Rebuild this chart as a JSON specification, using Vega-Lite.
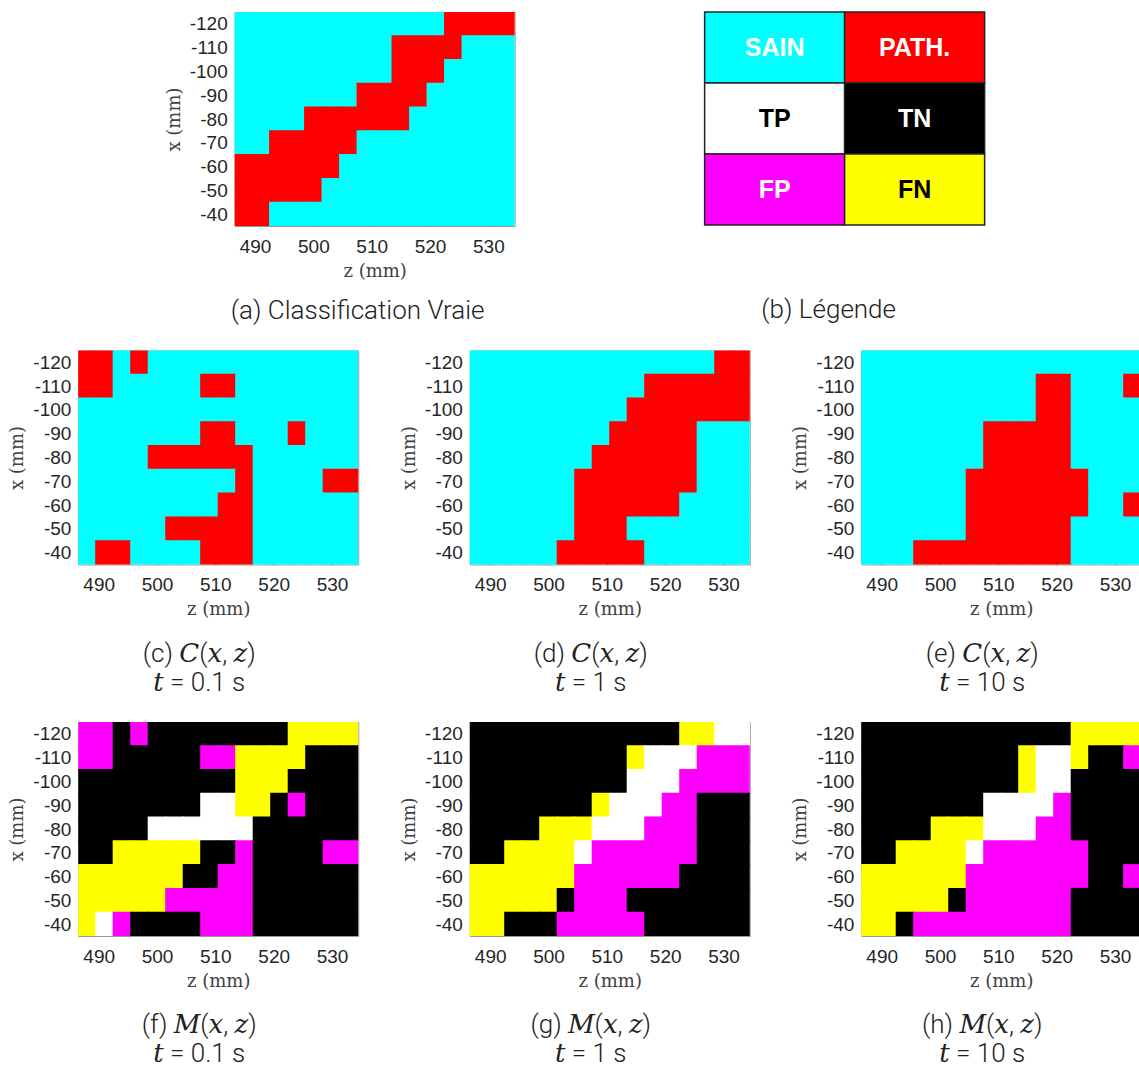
{
"$schema":"https://vega.github.io/schema/vega-lite/v6.json",
"background":"white",
"padding":{"left":8,"top":11,"right":0,"bottom":0},
"data":{"values":[
{"z":488,"x":-120,"a":"S","c":"P","d":"S","e":"S","f":"FP","g":"TN","h":"TN"},
{"z":491,"x":-120,"a":"S","c":"P","d":"S","e":"S","f":"FP","g":"TN","h":"TN"},
{"z":494,"x":-120,"a":"S","c":"S","d":"S","e":"S","f":"TN","g":"TN","h":"TN"},
{"z":497,"x":-120,"a":"S","c":"P","d":"S","e":"S","f":"FP","g":"TN","h":"TN"},
{"z":500,"x":-120,"a":"S","c":"S","d":"S","e":"S","f":"TN","g":"TN","h":"TN"},
{"z":503,"x":-120,"a":"S","c":"S","d":"S","e":"S","f":"TN","g":"TN","h":"TN"},
{"z":506,"x":-120,"a":"S","c":"S","d":"S","e":"S","f":"TN","g":"TN","h":"TN"},
{"z":509,"x":-120,"a":"S","c":"S","d":"S","e":"S","f":"TN","g":"TN","h":"TN"},
{"z":512,"x":-120,"a":"S","c":"S","d":"S","e":"S","f":"TN","g":"TN","h":"TN"},
{"z":515,"x":-120,"a":"S","c":"S","d":"S","e":"S","f":"TN","g":"TN","h":"TN"},
{"z":518,"x":-120,"a":"S","c":"S","d":"S","e":"S","f":"TN","g":"TN","h":"TN"},
{"z":521,"x":-120,"a":"S","c":"S","d":"S","e":"S","f":"TN","g":"TN","h":"TN"},
{"z":524,"x":-120,"a":"P","c":"S","d":"S","e":"S","f":"FN","g":"FN","h":"FN"},
{"z":527,"x":-120,"a":"P","c":"S","d":"S","e":"S","f":"FN","g":"FN","h":"FN"},
{"z":530,"x":-120,"a":"P","c":"S","d":"P","e":"S","f":"FN","g":"TP","h":"FN"},
{"z":533,"x":-120,"a":"P","c":"S","d":"P","e":"S","f":"FN","g":"TP","h":"FN"},
{"z":488,"x":-110,"a":"S","c":"P","d":"S","e":"S","f":"FP","g":"TN","h":"TN"},
{"z":491,"x":-110,"a":"S","c":"P","d":"S","e":"S","f":"FP","g":"TN","h":"TN"},
{"z":494,"x":-110,"a":"S","c":"S","d":"S","e":"S","f":"TN","g":"TN","h":"TN"},
{"z":497,"x":-110,"a":"S","c":"S","d":"S","e":"S","f":"TN","g":"TN","h":"TN"},
{"z":500,"x":-110,"a":"S","c":"S","d":"S","e":"S","f":"TN","g":"TN","h":"TN"},
{"z":503,"x":-110,"a":"S","c":"S","d":"S","e":"S","f":"TN","g":"TN","h":"TN"},
{"z":506,"x":-110,"a":"S","c":"S","d":"S","e":"S","f":"TN","g":"TN","h":"TN"},
{"z":509,"x":-110,"a":"S","c":"P","d":"S","e":"S","f":"FP","g":"TN","h":"TN"},
{"z":512,"x":-110,"a":"S","c":"P","d":"S","e":"S","f":"FP","g":"TN","h":"TN"},
{"z":515,"x":-110,"a":"P","c":"S","d":"S","e":"S","f":"FN","g":"FN","h":"FN"},
{"z":518,"x":-110,"a":"P","c":"S","d":"P","e":"P","f":"FN","g":"TP","h":"TP"},
{"z":521,"x":-110,"a":"P","c":"S","d":"P","e":"P","f":"FN","g":"TP","h":"TP"},
{"z":524,"x":-110,"a":"P","c":"S","d":"P","e":"S","f":"FN","g":"TP","h":"FN"},
{"z":527,"x":-110,"a":"S","c":"S","d":"P","e":"S","f":"TN","g":"FP","h":"TN"},
{"z":530,"x":-110,"a":"S","c":"S","d":"P","e":"S","f":"TN","g":"FP","h":"TN"},
{"z":533,"x":-110,"a":"S","c":"S","d":"P","e":"P","f":"TN","g":"FP","h":"FP"},
{"z":488,"x":-100,"a":"S","c":"S","d":"S","e":"S","f":"TN","g":"TN","h":"TN"},
{"z":491,"x":-100,"a":"S","c":"S","d":"S","e":"S","f":"TN","g":"TN","h":"TN"},
{"z":494,"x":-100,"a":"S","c":"S","d":"S","e":"S","f":"TN","g":"TN","h":"TN"},
{"z":497,"x":-100,"a":"S","c":"S","d":"S","e":"S","f":"TN","g":"TN","h":"TN"},
{"z":500,"x":-100,"a":"S","c":"S","d":"S","e":"S","f":"TN","g":"TN","h":"TN"},
{"z":503,"x":-100,"a":"S","c":"S","d":"S","e":"S","f":"TN","g":"TN","h":"TN"},
{"z":506,"x":-100,"a":"S","c":"S","d":"S","e":"S","f":"TN","g":"TN","h":"TN"},
{"z":509,"x":-100,"a":"S","c":"S","d":"S","e":"S","f":"TN","g":"TN","h":"TN"},
{"z":512,"x":-100,"a":"S","c":"S","d":"S","e":"S","f":"TN","g":"TN","h":"TN"},
{"z":515,"x":-100,"a":"P","c":"S","d":"P","e":"S","f":"FN","g":"TP","h":"FN"},
{"z":518,"x":-100,"a":"P","c":"S","d":"P","e":"P","f":"FN","g":"TP","h":"TP"},
{"z":521,"x":-100,"a":"P","c":"S","d":"P","e":"P","f":"FN","g":"TP","h":"TP"},
{"z":524,"x":-100,"a":"S","c":"S","d":"P","e":"S","f":"TN","g":"FP","h":"TN"},
{"z":527,"x":-100,"a":"S","c":"S","d":"P","e":"S","f":"TN","g":"FP","h":"TN"},
{"z":530,"x":-100,"a":"S","c":"S","d":"P","e":"S","f":"TN","g":"FP","h":"TN"},
{"z":533,"x":-100,"a":"S","c":"S","d":"P","e":"S","f":"TN","g":"FP","h":"TN"},
{"z":488,"x":-90,"a":"S","c":"S","d":"S","e":"S","f":"TN","g":"TN","h":"TN"},
{"z":491,"x":-90,"a":"S","c":"S","d":"S","e":"S","f":"TN","g":"TN","h":"TN"},
{"z":494,"x":-90,"a":"S","c":"S","d":"S","e":"S","f":"TN","g":"TN","h":"TN"},
{"z":497,"x":-90,"a":"S","c":"S","d":"S","e":"S","f":"TN","g":"TN","h":"TN"},
{"z":500,"x":-90,"a":"S","c":"S","d":"S","e":"S","f":"TN","g":"TN","h":"TN"},
{"z":503,"x":-90,"a":"S","c":"S","d":"S","e":"S","f":"TN","g":"TN","h":"TN"},
{"z":506,"x":-90,"a":"S","c":"S","d":"S","e":"S","f":"TN","g":"TN","h":"TN"},
{"z":509,"x":-90,"a":"P","c":"P","d":"S","e":"P","f":"TP","g":"FN","h":"TP"},
{"z":512,"x":-90,"a":"P","c":"P","d":"P","e":"P","f":"TP","g":"TP","h":"TP"},
{"z":515,"x":-90,"a":"P","c":"S","d":"P","e":"P","f":"FN","g":"TP","h":"TP"},
{"z":518,"x":-90,"a":"P","c":"S","d":"P","e":"P","f":"FN","g":"TP","h":"TP"},
{"z":521,"x":-90,"a":"S","c":"S","d":"P","e":"P","f":"TN","g":"FP","h":"FP"},
{"z":524,"x":-90,"a":"S","c":"P","d":"P","e":"S","f":"FP","g":"FP","h":"TN"},
{"z":527,"x":-90,"a":"S","c":"S","d":"S","e":"S","f":"TN","g":"TN","h":"TN"},
{"z":530,"x":-90,"a":"S","c":"S","d":"S","e":"S","f":"TN","g":"TN","h":"TN"},
{"z":533,"x":-90,"a":"S","c":"S","d":"S","e":"S","f":"TN","g":"TN","h":"TN"},
{"z":488,"x":-80,"a":"S","c":"S","d":"S","e":"S","f":"TN","g":"TN","h":"TN"},
{"z":491,"x":-80,"a":"S","c":"S","d":"S","e":"S","f":"TN","g":"TN","h":"TN"},
{"z":494,"x":-80,"a":"S","c":"S","d":"S","e":"S","f":"TN","g":"TN","h":"TN"},
{"z":497,"x":-80,"a":"S","c":"S","d":"S","e":"S","f":"TN","g":"TN","h":"TN"},
{"z":500,"x":-80,"a":"P","c":"P","d":"S","e":"S","f":"TP","g":"FN","h":"FN"},
{"z":503,"x":-80,"a":"P","c":"P","d":"S","e":"S","f":"TP","g":"FN","h":"FN"},
{"z":506,"x":-80,"a":"P","c":"P","d":"S","e":"S","f":"TP","g":"FN","h":"FN"},
{"z":509,"x":-80,"a":"P","c":"P","d":"P","e":"P","f":"TP","g":"TP","h":"TP"},
{"z":512,"x":-80,"a":"P","c":"P","d":"P","e":"P","f":"TP","g":"TP","h":"TP"},
{"z":515,"x":-80,"a":"P","c":"P","d":"P","e":"P","f":"TP","g":"TP","h":"TP"},
{"z":518,"x":-80,"a":"S","c":"S","d":"P","e":"P","f":"TN","g":"FP","h":"FP"},
{"z":521,"x":-80,"a":"S","c":"S","d":"P","e":"P","f":"TN","g":"FP","h":"FP"},
{"z":524,"x":-80,"a":"S","c":"S","d":"P","e":"S","f":"TN","g":"FP","h":"TN"},
{"z":527,"x":-80,"a":"S","c":"S","d":"S","e":"S","f":"TN","g":"TN","h":"TN"},
{"z":530,"x":-80,"a":"S","c":"S","d":"S","e":"S","f":"TN","g":"TN","h":"TN"},
{"z":533,"x":-80,"a":"S","c":"S","d":"S","e":"S","f":"TN","g":"TN","h":"TN"},
{"z":488,"x":-70,"a":"S","c":"S","d":"S","e":"S","f":"TN","g":"TN","h":"TN"},
{"z":491,"x":-70,"a":"S","c":"S","d":"S","e":"S","f":"TN","g":"TN","h":"TN"},
{"z":494,"x":-70,"a":"P","c":"S","d":"S","e":"S","f":"FN","g":"FN","h":"FN"},
{"z":497,"x":-70,"a":"P","c":"S","d":"S","e":"S","f":"FN","g":"FN","h":"FN"},
{"z":500,"x":-70,"a":"P","c":"S","d":"S","e":"S","f":"FN","g":"FN","h":"FN"},
{"z":503,"x":-70,"a":"P","c":"S","d":"S","e":"S","f":"FN","g":"FN","h":"FN"},
{"z":506,"x":-70,"a":"P","c":"S","d":"P","e":"P","f":"FN","g":"TP","h":"TP"},
{"z":509,"x":-70,"a":"S","c":"S","d":"P","e":"P","f":"TN","g":"FP","h":"FP"},
{"z":512,"x":-70,"a":"S","c":"S","d":"P","e":"P","f":"TN","g":"FP","h":"FP"},
{"z":515,"x":-70,"a":"S","c":"P","d":"P","e":"P","f":"FP","g":"FP","h":"FP"},
{"z":518,"x":-70,"a":"S","c":"S","d":"P","e":"P","f":"TN","g":"FP","h":"FP"},
{"z":521,"x":-70,"a":"S","c":"S","d":"P","e":"P","f":"TN","g":"FP","h":"FP"},
{"z":524,"x":-70,"a":"S","c":"S","d":"P","e":"P","f":"TN","g":"FP","h":"FP"},
{"z":527,"x":-70,"a":"S","c":"S","d":"S","e":"S","f":"TN","g":"TN","h":"TN"},
{"z":530,"x":-70,"a":"S","c":"P","d":"S","e":"S","f":"FP","g":"TN","h":"TN"},
{"z":533,"x":-70,"a":"S","c":"P","d":"S","e":"S","f":"FP","g":"TN","h":"TN"},
{"z":488,"x":-60,"a":"P","c":"S","d":"S","e":"S","f":"FN","g":"FN","h":"FN"},
{"z":491,"x":-60,"a":"P","c":"S","d":"S","e":"S","f":"FN","g":"FN","h":"FN"},
{"z":494,"x":-60,"a":"P","c":"S","d":"S","e":"S","f":"FN","g":"FN","h":"FN"},
{"z":497,"x":-60,"a":"P","c":"S","d":"S","e":"S","f":"FN","g":"FN","h":"FN"},
{"z":500,"x":-60,"a":"P","c":"S","d":"S","e":"S","f":"FN","g":"FN","h":"FN"},
{"z":503,"x":-60,"a":"P","c":"S","d":"S","e":"S","f":"FN","g":"FN","h":"FN"},
{"z":506,"x":-60,"a":"S","c":"S","d":"P","e":"P","f":"TN","g":"FP","h":"FP"},
{"z":509,"x":-60,"a":"S","c":"S","d":"P","e":"P","f":"TN","g":"FP","h":"FP"},
{"z":512,"x":-60,"a":"S","c":"P","d":"P","e":"P","f":"FP","g":"FP","h":"FP"},
{"z":515,"x":-60,"a":"S","c":"P","d":"P","e":"P","f":"FP","g":"FP","h":"FP"},
{"z":518,"x":-60,"a":"S","c":"S","d":"P","e":"P","f":"TN","g":"FP","h":"FP"},
{"z":521,"x":-60,"a":"S","c":"S","d":"P","e":"P","f":"TN","g":"FP","h":"FP"},
{"z":524,"x":-60,"a":"S","c":"S","d":"S","e":"P","f":"TN","g":"TN","h":"FP"},
{"z":527,"x":-60,"a":"S","c":"S","d":"S","e":"S","f":"TN","g":"TN","h":"TN"},
{"z":530,"x":-60,"a":"S","c":"S","d":"S","e":"S","f":"TN","g":"TN","h":"TN"},
{"z":533,"x":-60,"a":"S","c":"S","d":"S","e":"P","f":"TN","g":"TN","h":"FP"},
{"z":488,"x":-50,"a":"P","c":"S","d":"S","e":"S","f":"FN","g":"FN","h":"FN"},
{"z":491,"x":-50,"a":"P","c":"S","d":"S","e":"S","f":"FN","g":"FN","h":"FN"},
{"z":494,"x":-50,"a":"P","c":"S","d":"S","e":"S","f":"FN","g":"FN","h":"FN"},
{"z":497,"x":-50,"a":"P","c":"S","d":"S","e":"S","f":"FN","g":"FN","h":"FN"},
{"z":500,"x":-50,"a":"P","c":"S","d":"S","e":"S","f":"FN","g":"FN","h":"FN"},
{"z":503,"x":-50,"a":"S","c":"P","d":"S","e":"S","f":"FP","g":"TN","h":"TN"},
{"z":506,"x":-50,"a":"S","c":"P","d":"P","e":"P","f":"FP","g":"FP","h":"FP"},
{"z":509,"x":-50,"a":"S","c":"P","d":"P","e":"P","f":"FP","g":"FP","h":"FP"},
{"z":512,"x":-50,"a":"S","c":"P","d":"P","e":"P","f":"FP","g":"FP","h":"FP"},
{"z":515,"x":-50,"a":"S","c":"P","d":"S","e":"P","f":"FP","g":"TN","h":"FP"},
{"z":518,"x":-50,"a":"S","c":"S","d":"S","e":"P","f":"TN","g":"TN","h":"FP"},
{"z":521,"x":-50,"a":"S","c":"S","d":"S","e":"P","f":"TN","g":"TN","h":"FP"},
{"z":524,"x":-50,"a":"S","c":"S","d":"S","e":"S","f":"TN","g":"TN","h":"TN"},
{"z":527,"x":-50,"a":"S","c":"S","d":"S","e":"S","f":"TN","g":"TN","h":"TN"},
{"z":530,"x":-50,"a":"S","c":"S","d":"S","e":"S","f":"TN","g":"TN","h":"TN"},
{"z":533,"x":-50,"a":"S","c":"S","d":"S","e":"S","f":"TN","g":"TN","h":"TN"},
{"z":488,"x":-40,"a":"P","c":"S","d":"S","e":"S","f":"FN","g":"FN","h":"FN"},
{"z":491,"x":-40,"a":"P","c":"P","d":"S","e":"S","f":"TP","g":"FN","h":"FN"},
{"z":494,"x":-40,"a":"S","c":"P","d":"S","e":"S","f":"FP","g":"TN","h":"TN"},
{"z":497,"x":-40,"a":"S","c":"S","d":"S","e":"P","f":"TN","g":"TN","h":"FP"},
{"z":500,"x":-40,"a":"S","c":"S","d":"S","e":"P","f":"TN","g":"TN","h":"FP"},
{"z":503,"x":-40,"a":"S","c":"S","d":"P","e":"P","f":"TN","g":"FP","h":"FP"},
{"z":506,"x":-40,"a":"S","c":"S","d":"P","e":"P","f":"TN","g":"FP","h":"FP"},
{"z":509,"x":-40,"a":"S","c":"P","d":"P","e":"P","f":"FP","g":"FP","h":"FP"},
{"z":512,"x":-40,"a":"S","c":"P","d":"P","e":"P","f":"FP","g":"FP","h":"FP"},
{"z":515,"x":-40,"a":"S","c":"P","d":"P","e":"P","f":"FP","g":"FP","h":"FP"},
{"z":518,"x":-40,"a":"S","c":"S","d":"S","e":"P","f":"TN","g":"TN","h":"FP"},
{"z":521,"x":-40,"a":"S","c":"S","d":"S","e":"P","f":"TN","g":"TN","h":"FP"},
{"z":524,"x":-40,"a":"S","c":"S","d":"S","e":"S","f":"TN","g":"TN","h":"TN"},
{"z":527,"x":-40,"a":"S","c":"S","d":"S","e":"S","f":"TN","g":"TN","h":"TN"},
{"z":530,"x":-40,"a":"S","c":"S","d":"S","e":"S","f":"TN","g":"TN","h":"TN"},
{"z":533,"x":-40,"a":"S","c":"S","d":"S","e":"S","f":"TN","g":"TN","h":"TN"}
]},
"vconcat":[
{"hconcat":[
{"width":280,"height":214,
 "title":{"text":"(a) Classification Vraie","orient":"bottom","anchor":"middle","frame":"group","dx":-17,"offset":18},
 "mark":{"type":"rect","width":18.6,"height":24.9,"clip":true},
 "encoding":{
  "x":{"field":"z","type":"quantitative","scale":{"domain":[486.5,534.5],"nice":false,"zero":false},"axis":{"values":[490,500,510,520,530],"title":"z (mm)"}},
  "y":{"field":"x","type":"quantitative","scale":{"domain":[-125,-35],"nice":false,"zero":false,"reverse":true},"axis":{"values":[-120,-110,-100,-90,-80,-70,-60,-50,-40],"title":"x (mm)","labelExpr":"'' + datum.value"}},
  "color":{"field":"a","type":"nominal","scale":{"domain":["S","P"],"range":["#00ffff","#ff0000"]},"legend":null}}},
{"width":280,"height":213,
 "title":{"text":"(b) Légende","orient":"bottom","anchor":"middle","frame":"group","dx":-16,"offset":71},
 "data":{"values":[
  {"col":1,"row":1,"label":"SAIN"},{"col":2,"row":1,"label":"PATH."},
  {"col":1,"row":2,"label":"TP"},{"col":2,"row":2,"label":"TN"},
  {"col":1,"row":3,"label":"FP"},{"col":2,"row":3,"label":"FN"}]},
 "encoding":{
  "x":{"field":"col","type":"ordinal","axis":null,"scale":{"paddingInner":0,"paddingOuter":0}},
  "y":{"field":"row","type":"ordinal","axis":null,"scale":{"paddingInner":0,"paddingOuter":0}}},
 "layer":[
  {"mark":{"type":"rect","stroke":"#222222","strokeWidth":1.5},
   "encoding":{"color":{"field":"label","type":"nominal","scale":{"domain":["SAIN","PATH.","TP","TN","FP","FN"],"range":["#00ffff","#ff0000","#ffffff","#000000","#ff00ff","#ffff00"]},"legend":null}}},
  {"mark":{"type":"text","font":"Liberation Sans","fontWeight":"bold","fontSize":25},
   "encoding":{"text":{"field":"label"},"color":{"field":"label","type":"nominal","scale":{"domain":["SAIN","PATH.","TP","TN","FP","FN"],"range":["#ffffff","#ffffff","#000000","#ffffff","#ffffff","#000000"]},"legend":null}}}
 ],
 "resolve":{"scale":{"color":"independent"}},
 "view":{"stroke":null}}
],"spacing":188,"resolve":{"scale":{"color":"independent"}}},
{"hconcat":[
{"width":280,"height":214,
 "title":{"text":["(c) 𝐶(𝑥, 𝑧)","𝑡 = 0.1 s"],"orient":"bottom","anchor":"middle","frame":"group","dx":-19,"offset":22},
 "mark":{"type":"rect","width":18.6,"height":24.9,"clip":true},
 "encoding":{
  "x":{"field":"z","type":"quantitative","scale":{"domain":[486.5,534.5],"nice":false,"zero":false},"axis":{"values":[490,500,510,520,530],"title":"z (mm)"}},
  "y":{"field":"x","type":"quantitative","scale":{"domain":[-125,-35],"nice":false,"zero":false,"reverse":true},"axis":{"values":[-120,-110,-100,-90,-80,-70,-60,-50,-40],"title":"x (mm)","labelExpr":"'' + datum.value"}},
  "color":{"field":"c","type":"nominal","scale":{"domain":["S","P"],"range":["#00ffff","#ff0000"]},"legend":null}}},
{"width":280,"height":214,
 "title":{"text":["(d) 𝐶(𝑥, 𝑧)","𝑡 = 1 s"],"orient":"bottom","anchor":"middle","frame":"group","dx":-19,"offset":22},
 "mark":{"type":"rect","width":18.6,"height":24.9,"clip":true},
 "encoding":{
  "x":{"field":"z","type":"quantitative","scale":{"domain":[486.5,534.5],"nice":false,"zero":false},"axis":{"values":[490,500,510,520,530],"title":"z (mm)"}},
  "y":{"field":"x","type":"quantitative","scale":{"domain":[-125,-35],"nice":false,"zero":false,"reverse":true},"axis":{"values":[-120,-110,-100,-90,-80,-70,-60,-50,-40],"title":"x (mm)","labelExpr":"'' + datum.value"}},
  "color":{"field":"d","type":"nominal","scale":{"domain":["S","P"],"range":["#00ffff","#ff0000"]},"legend":null}}},
{"width":280,"height":214,
 "title":{"text":["(e) 𝐶(𝑥, 𝑧)","𝑡 = 10 s"],"orient":"bottom","anchor":"middle","frame":"group","dx":-19,"offset":22},
 "mark":{"type":"rect","width":18.6,"height":24.9,"clip":true},
 "encoding":{
  "x":{"field":"z","type":"quantitative","scale":{"domain":[486.5,534.5],"nice":false,"zero":false},"axis":{"values":[490,500,510,520,530],"title":"z (mm)"}},
  "y":{"field":"x","type":"quantitative","scale":{"domain":[-125,-35],"nice":false,"zero":false,"reverse":true},"axis":{"values":[-120,-110,-100,-90,-80,-70,-60,-50,-40],"title":"x (mm)","labelExpr":"'' + datum.value"}},
  "color":{"field":"e","type":"nominal","scale":{"domain":["S","P"],"range":["#00ffff","#ff0000"]},"legend":null}}}
],"spacing":40.5,"resolve":{"scale":{"color":"independent"}}},
{"hconcat":[
{"width":280,"height":214,
 "title":{"text":["(f) 𝑀(𝑥, 𝑧)","𝑡 = 0.1 s"],"orient":"bottom","anchor":"middle","frame":"group","dx":-19,"offset":22},
 "mark":{"type":"rect","width":18.6,"height":24.9,"clip":true},
 "encoding":{
  "x":{"field":"z","type":"quantitative","scale":{"domain":[486.5,534.5],"nice":false,"zero":false},"axis":{"values":[490,500,510,520,530],"title":"z (mm)"}},
  "y":{"field":"x","type":"quantitative","scale":{"domain":[-125,-35],"nice":false,"zero":false,"reverse":true},"axis":{"values":[-120,-110,-100,-90,-80,-70,-60,-50,-40],"title":"x (mm)","labelExpr":"'' + datum.value"}},
  "color":{"field":"f","type":"nominal","scale":{"domain":["TP","TN","FP","FN"],"range":["#ffffff","#000000","#ff00ff","#ffff00"]},"legend":null}}},
{"width":280,"height":214,
 "title":{"text":["(g) 𝑀(𝑥, 𝑧)","𝑡 = 1 s"],"orient":"bottom","anchor":"middle","frame":"group","dx":-19,"offset":22},
 "mark":{"type":"rect","width":18.6,"height":24.9,"clip":true},
 "encoding":{
  "x":{"field":"z","type":"quantitative","scale":{"domain":[486.5,534.5],"nice":false,"zero":false},"axis":{"values":[490,500,510,520,530],"title":"z (mm)"}},
  "y":{"field":"x","type":"quantitative","scale":{"domain":[-125,-35],"nice":false,"zero":false,"reverse":true},"axis":{"values":[-120,-110,-100,-90,-80,-70,-60,-50,-40],"title":"x (mm)","labelExpr":"'' + datum.value"}},
  "color":{"field":"g","type":"nominal","scale":{"domain":["TP","TN","FP","FN"],"range":["#ffffff","#000000","#ff00ff","#ffff00"]},"legend":null}}},
{"width":280,"height":214,
 "title":{"text":["(h) 𝑀(𝑥, 𝑧)","𝑡 = 10 s"],"orient":"bottom","anchor":"middle","frame":"group","dx":-19,"offset":22},
 "mark":{"type":"rect","width":18.6,"height":24.9,"clip":true},
 "encoding":{
  "x":{"field":"z","type":"quantitative","scale":{"domain":[486.5,534.5],"nice":false,"zero":false},"axis":{"values":[490,500,510,520,530],"title":"z (mm)"}},
  "y":{"field":"x","type":"quantitative","scale":{"domain":[-125,-35],"nice":false,"zero":false,"reverse":true},"axis":{"values":[-120,-110,-100,-90,-80,-70,-60,-50,-40],"title":"x (mm)","labelExpr":"'' + datum.value"}},
  "color":{"field":"h","type":"nominal","scale":{"domain":["TP","TN","FP","FN"],"range":["#ffffff","#000000","#ff00ff","#ffff00"]},"legend":null}}}
],"spacing":40.5,"resolve":{"scale":{"color":"independent"}}}
],
"spacing":24.5,
"center":true,
"resolve":{"scale":{"color":"independent"}},
"config":{
 "view":{"stroke":"#999999","strokeWidth":1},
 "axis":{"domain":false,"grid":false,"zindex":1,"labelFont":"Liberation Sans","labelFontSize":19,"labelColor":"#262626","titleFont":"DejaVu Serif","titleFontSize":18,"titleFontWeight":"normal","titleColor":"#404040","tickColor":"#666666","tickSize":-3,"labelPadding":10.4},
 "axisY":{"titlePadding":6},
 "axisX":{"titlePadding":6,"labelPadding":14},
 "title":{"font":"Roboto, DejaVu Serif, DejaVu Sans","fontWeight":300,"fontSize":26,"color":"#222222","lineHeight":29}
}
}
